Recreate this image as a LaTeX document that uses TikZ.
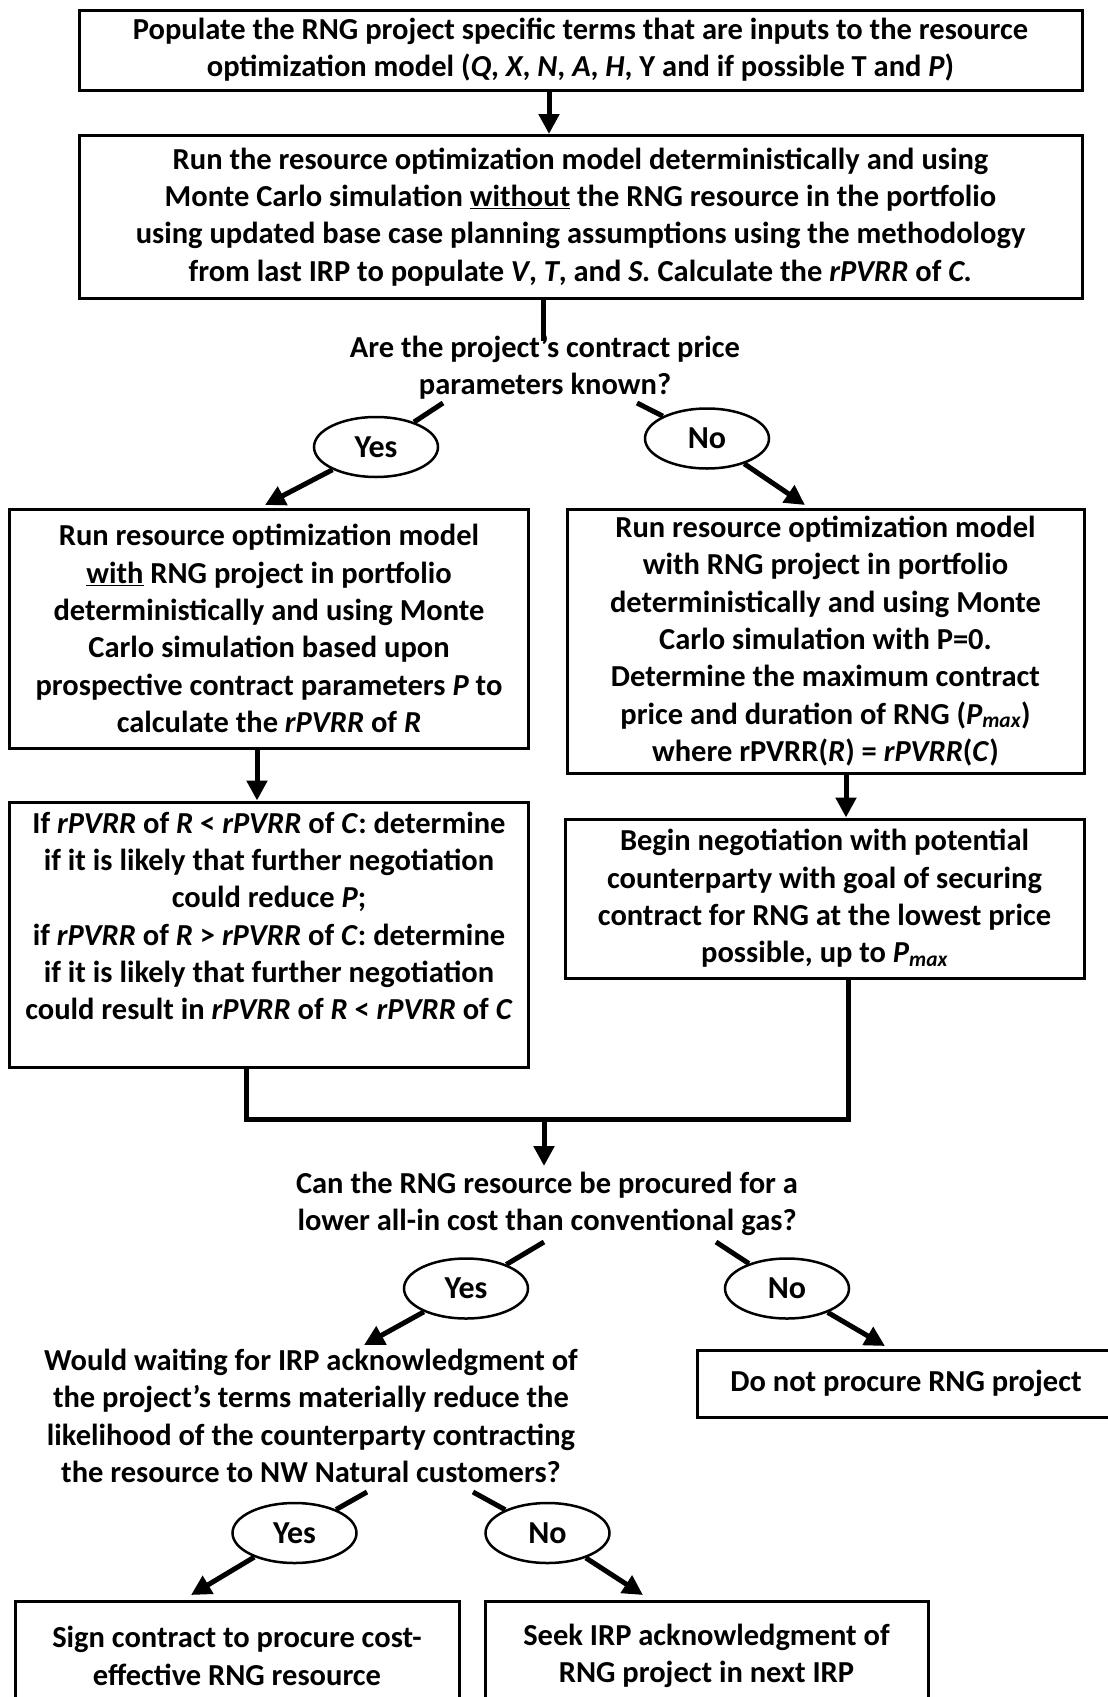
\documentclass[tikz,border=0pt]{standalone}
\usepackage{fontspec}
\setmainfont{Carlito}
\usetikzlibrary{arrows.meta,shapes.geometric,calc}
\begin{document}
\begin{tikzpicture}[x=1pt,y=-1pt,
  every node/.style={font=\bfseries\fontsize{30.5}{37.3}\selectfont},
  box/.style={draw,line width=3pt,align=center,inner sep=0pt},
  ques/.style={align=center,inner sep=0pt},
  yn/.style={draw,ellipse,line width=2.5pt,minimum width=124pt,minimum height=60pt,inner sep=0pt,font=\bfseries\fontsize{32}{38}\selectfont},
  conn/.style={line width=5pt},
  arr/.style={line width=5pt,-{Triangle[length=20pt,width=20pt]}},
]
\useasboundingbox[fill=white] (0,0) rectangle (1108,1697);

% boxes
\node[box,minimum width=1003pt,minimum height=80pt] (b1) at (580.5,50)
 {Populate the RNG project specific terms that are inputs to the resource\\
  optimization model (\textit{Q}, \textit{X}, \textit{N}, \textit{A}, \textit{H}, Y and if possible T and \textit{P})};
\node[box,minimum width=1003pt,minimum height=163pt] (b2) at (580.5,217)
 {Run the resource optimization model deterministically and using\\
  Monte Carlo simulation \underline{without} the RNG resource in the portfolio\\
  using updated base case planning assumptions using the methodology\\
  from last IRP to populate \textit{V}, \textit{T}, and \textit{S.} Calculate the \textit{rPVRR} of \textit{C.}};
\node[box,minimum width=519pt,minimum height=239pt] (b3) at (269,628.5)
 {Run resource optimization model\\
  \underline{with} RNG project in portfolio\\
  deterministically and using Monte\\
  Carlo simulation based upon\\
  prospective contract parameters \textit{P} to\\
  calculate the \textit{rPVRR} of \textit{R}};
\node[box,minimum width=517pt,minimum height=264pt] (b4) at (825.5,641)
 {Run resource optimization model\\
  with RNG project in portfolio\\
  deterministically and using Monte\\
  Carlo simulation with P=0.\\
  Determine the maximum contract\\
  price and duration of RNG (\textit{P\textsubscript{max}})\\
  where rPVRR(\textit{R}) = \textit{rPVRR}(\textit{C})};
\node[box,minimum width=519pt,minimum height=265pt] (b5) at (269,934.5) {};
\node[ques] (t5) at (269,916)
 {If \textit{rPVRR} of \textit{R} < \textit{rPVRR} of \textit{C}: determine\\
  if it is likely that further negotiation\\
  could reduce \textit{P};\\
  if \textit{rPVRR} of \textit{R} > \textit{rPVRR} of \textit{C}: determine\\
  if it is likely that further negotiation\\
  could result in \textit{rPVRR} of \textit{R} < \textit{rPVRR} of \textit{C}};
\node[box,minimum width=519pt,minimum height=159pt] (b6) at (824.5,898.5)
 {Begin negotiation with potential\\
  counterparty with goal of securing\\
  contract for RNG at the lowest price\\
  possible, up to \textit{P\textsubscript{max}}};
\node[box,minimum width=418pt,minimum height=67pt] (b7) at (906,1383.5)
 {Do not procure RNG project};
\node[box,minimum width=444pt,minimum height=110pt] (b8) at (237,1656)
 {Sign contract to procure cost-\\effective RNG resource};
\node[box,minimum width=443pt,minimum height=110pt] (b9) at (706.5,1656)
 {Seek IRP acknowledgment of\\RNG project in next IRP};

% questions
\node[ques] (q1) at (545,367.5) {Are the project’s contract price\\parameters known?};
\node[ques] (q2) at (547,1204) {Can the RNG resource be procured for a\\lower all-in cost than conventional gas?};
\node[ques] (q3) at (311,1416) {Would waiting for IRP acknowledgment of\\the project’s terms materially reduce the\\likelihood of the counterparty contracting\\the resource to NW Natural customers?};

% yes / no
\node[yn] (y1) at (376,447) {Yes};
\node[yn] (n1) at (707,438.5) {No};
\node[yn] (y2) at (466,1288.5) {Yes};
\node[yn] (n2) at (787,1288.5) {No};
\node[yn] (y3) at (294.5,1533) {Yes};
\node[yn] (n3) at (547.5,1533) {No};

% helper coordinates
\coordinate (x1) at (549,0);
\coordinate (l1) at (543,341);
\coordinate (q1l) at (443,403);
\coordinate (q1r) at (637,403);
\coordinate (a1) at (265,505);
\coordinate (a2) at (805,505);
\coordinate (x3) at (257,0);
\coordinate (x4) at (846,0);
\coordinate (jl) at (246,1119);
\coordinate (jr) at (848,1119);
\coordinate (jm) at (544,1119);
\coordinate (q2t) at (544,1166);
\coordinate (q2l) at (544,1242);
\coordinate (q2r) at (716,1242);
\coordinate (a3) at (364,1345);
\coordinate (a4) at (885,1346);
\coordinate (q3l) at (367,1492);
\coordinate (q3r) at (473,1492);
\coordinate (a5) at (191,1595);
\coordinate (a6) at (643,1595);

% connectors
\draw[arr] (b1.south -| x1) -- (b2.north -| x1);
\draw[conn] (b2.south -| l1) -- (l1);
\draw[conn] (q1l) -- (y1);
\draw[arr] (y1) -- (a1);
\draw[conn] (q1r) -- (n1);
\draw[arr] (n1) -- (a2);
\draw[arr] (b3.south -| x3) -- (b5.north -| x3);
\draw[arr] (b4.south -| x4) -- (b6.north -| x4);
\draw[conn] (b5.south -| jl) -- (jl) -- (jr) -- (b6.south -| jr);
\draw[arr] (jm) -- (q2t);
\draw[conn] (q2l) -- (y2);
\draw[arr] (y2) -- (a3);
\draw[conn] (q2r) -- (n2);
\draw[arr] (n2) -- (a4);
\draw[conn] (q3l) -- (y3);
\draw[arr] (y3) -- (a5);
\draw[conn] (q3r) -- (n3);
\draw[arr] (n3) -- (a6);
\end{tikzpicture}
\end{document}
